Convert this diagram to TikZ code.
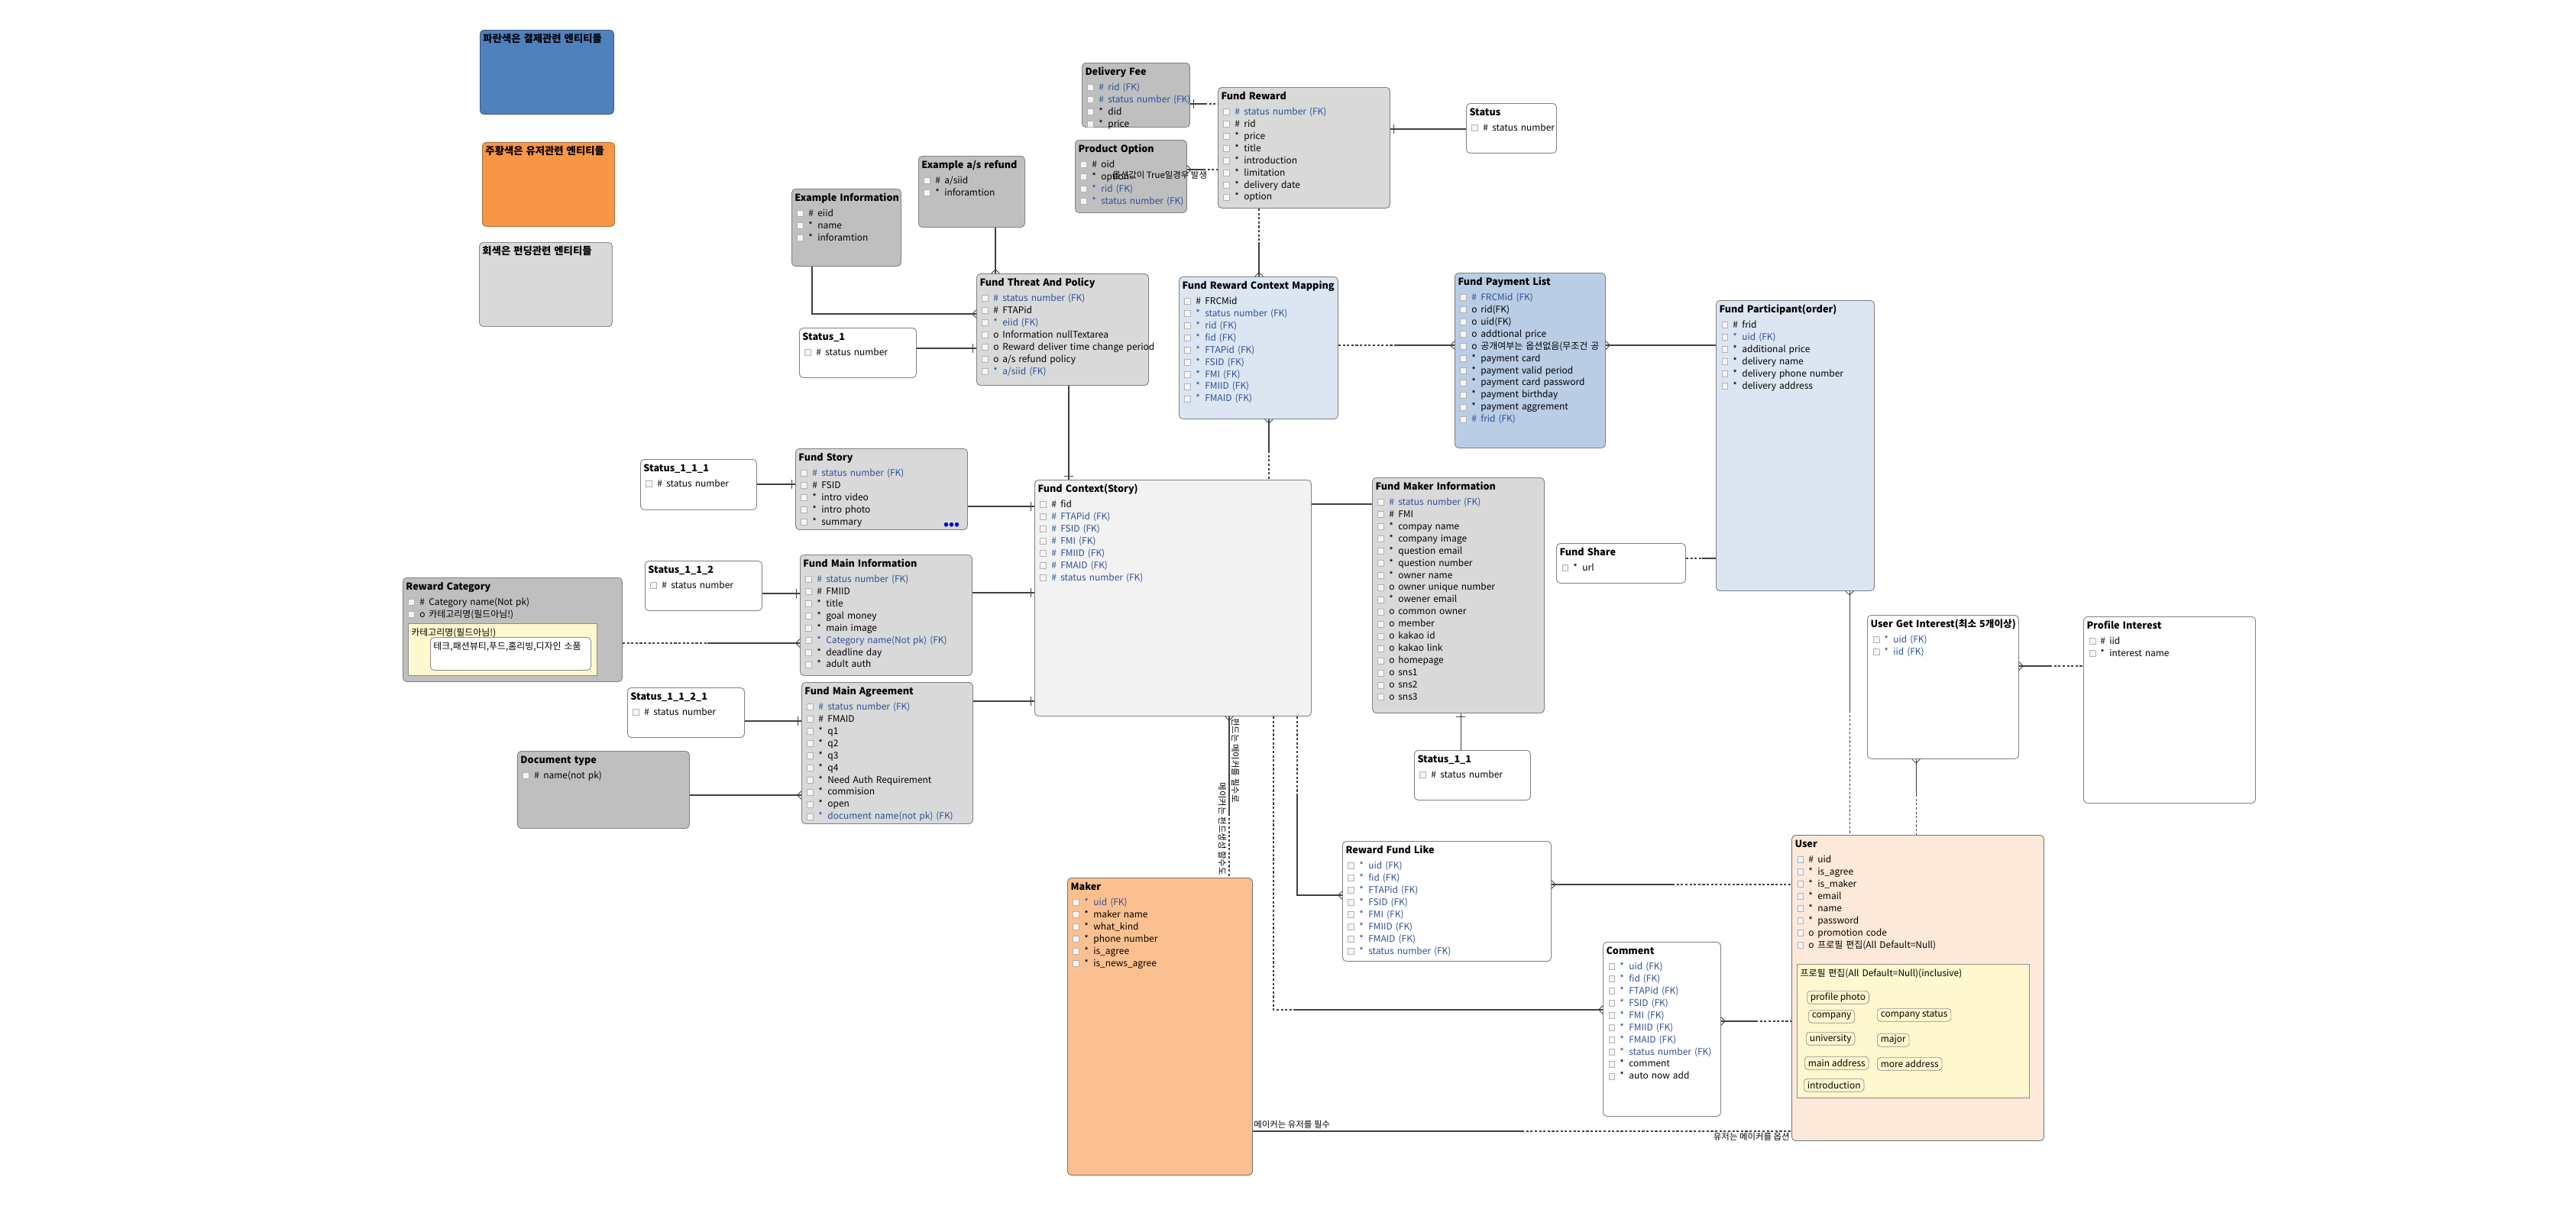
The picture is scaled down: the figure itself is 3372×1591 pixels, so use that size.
\documentclass[tikz,border=0pt]{standalone}
\usepackage{fontspec}
\setmainfont{Noto Sans CJK KR}
\usetikzlibrary{positioning, decorations.markings}

\definecolor{fkblue}{RGB}{45,80,150}
\definecolor{dgray}{RGB}{191,191,191}
\definecolor{lgray}{RGB}{217,217,217}
\definecolor{vlgray}{RGB}{242,242,242}
\definecolor{lblue}{RGB}{220,230,242}
\definecolor{mblue}{RGB}{185,205,229}
\definecolor{legblue}{RGB}{79,129,189}
\definecolor{legorange}{RGB}{247,150,70}
\definecolor{mkorange}{RGB}{250,192,144}
\definecolor{uspeach}{RGB}{253,233,217}
\definecolor{noteyel}{RGB}{255,247,206}

\newcommand{\rowfont}{\fontsize{6.8}{9.07}\selectfont}
\newcommand{\ttlfont}{\fontsize{7.2}{9.07}\selectfont\bfseries}
\newcommand{\legfont}{\fontsize{7.6}{9.07}\selectfont\bfseries}
\newcommand{\lblfont}{\fontsize{6.5}{8}\selectfont}
\newcommand{\ck}{\hspace*{1.7pt}{\setlength{\fboxsep}{0pt}\setlength{\fboxrule}{0.35pt}%
  \fcolorbox{black!30}{black!4}{\rule{0pt}{4.2pt}\rule{4.2pt}{0pt}}}\hspace{3.6pt}}
\newcommand{\et}[1]{\mbox{\ttlfont #1}\par\vspace{2pt}}
\newcommand{\rw}[2]{\mbox{\ck\makebox[6.8pt][l]{#1}#2}\par}
\newcommand{\rb}[2]{\mbox{\ck\textcolor{fkblue}{\makebox[6.8pt][l]{#1}#2}}\par}

\tikzset{
  ent/.style 2 args = {draw=black!50, rounded corners=2.8pt, anchor=north west,
    inner xsep=2.3pt, inner ysep=0pt, align=left, font=\rowfont, line width=0.5pt,
    /utils/exec={\pgfmathsetlengthmacro\entw{#1*0.2mm-4.6pt}%
      \pgfmathsetlengthmacro\entd{#2*0.2mm-9.4pt}},
    text width=\entw, text height=9.4pt, text depth=\entd},
  note/.style 2 args = {ent={#1}{#2}, sharp corners, fill=noteyel, draw=black!45},
  tag/.style = {draw=black!45, rounded corners=2.5pt, anchor=north west,
    inner xsep=2.5pt, inner ysep=1pt, minimum height=9.6pt, font=\rowfont},
  lbl/.style = {font=\lblfont, inner sep=0pt},
  ln/.style = {draw=black!75, line width=0.6pt},
  dsh/.style = {ln, dash pattern=on 1.8pt off 1.4pt},
  cf/.style = {postaction={decorate, decoration={markings,
    mark=at position 1 with {\draw[solid, line width=0.5pt] (-3pt,0pt) -- (0pt,3pt)
      (-3pt,0pt) -- (0pt,-3pt);}}}},
  cfs/.style = {postaction={decorate, decoration={markings,
    mark=at position 0 with {\draw[solid, line width=0.5pt] (3pt,0pt) -- (0pt,3pt)
      (3pt,0pt) -- (0pt,-3pt);}}}},
  br/.style = {postaction={decorate, decoration={markings,
    mark=at position -2.8pt with {\draw[solid, line width=0.5pt] (0pt,-3.2pt) -- (0pt,3.2pt);}}}},
  brs/.style = {postaction={decorate, decoration={markings,
    mark=at position 2.8pt with {\draw[solid, line width=0.5pt] (0pt,-3.2pt) -- (0pt,3.2pt);}}}}
}

\begin{document}
\begin{tikzpicture}[x=0.2mm, y=-0.2mm]
  \fill [white] (0,0) rectangle (3372,1591);
  \useasboundingbox (0,0) rectangle (3372,1591);

  % legend
  \node [ent={175}{110}, fill=legblue, draw=legblue!70!black] (lg-pay) at (628,39) {\mbox{\legfont 파란색은 결제관련 엔티티들}};
  \node [ent={173}{110}, fill=legorange, draw=legorange!70!black] (lg-usr) at (631,186) {\mbox{\legfont 주황색은 유저관련 엔티티들}};
  \node [ent={174}{110}, fill=lgray, draw=black!45] (lg-fnd) at (627,317) {\mbox{\legfont 회색은 펀딩관련 엔티티들}};

  % reward
  \node [ent={141}{84}, fill=dgray] (df) at (1416,82) {\et{Delivery Fee}
    \rb{\#}{rid (FK)}\rb{\#}{status number (FK)}\rw{*}{did}\rw{*}{price}};
  \node [ent={146}{95}, fill=dgray] (po) at (1407,183) {\et{Product Option}
    \rw{\#}{oid}\rw{*}{option}\rb{*}{rid (FK)}\rb{*}{status number (FK)}};
  \node [ent={225}{158}, fill=lgray] (fr) at (1594,114) {\et{Fund Reward}
    \rb{\#}{status number (FK)}\rw{\#}{rid}\rw{*}{price}\rw{*}{title}
    \rw{*}{introduction}\rw{*}{limitation}\rw{*}{delivery date}\rw{*}{option}};
  \node [ent={118}{65}, fill=white] (st) at (1919,135) {\et{Status}\rw{\#}{status number}};

  % threat and policy
  \node [ent={139}{93}, fill=dgray] (eas) at (1202,204) {\et{Example a/s refund}
    \rw{\#}{a/siid}\rw{*}{inforamtion}};
  \node [ent={143}{101}, fill=dgray] (ei) at (1036,247) {\et{Example Information}
    \rw{\#}{eiid}\rw{*}{name}\rw{*}{inforamtion}};
  \node [ent={225}{146}, fill=lgray] (ftp) at (1278,358) {\et{Fund Threat And Policy}
    \rb{\#}{status number (FK)}\rw{\#}{FTAPid}\rb{*}{eiid (FK)}
    \rw{o}{Information nullTextarea}\rw{o}{Reward deliver time change period}
    \rw{o}{a/s refund policy}\rb{*}{a/siid (FK)}};
  \node [ent={153}{65}, fill=white] (st1) at (1046,429) {\et{Status\_1}\rw{\#}{status number}};

  % payment
  \node [ent={208}{186}, fill=lblue] (frcm) at (1543,362) {\et{Fund Reward Context Mapping}
    \rw{\#}{FRCMid}\rb{*}{status number (FK)}\rb{*}{rid (FK)}\rb{*}{fid (FK)}
    \rb{*}{FTAPid (FK)}\rb{*}{FSID (FK)}\rb{*}{FMI (FK)}\rb{*}{FMIID (FK)}\rb{*}{FMAID (FK)}};
  \node [ent={197}{229}, fill=mblue] (fpl) at (1904,357) {\et{Fund Payment List}
    \rb{\#}{FRCMid (FK)}\rw{o}{rid(FK)}\rw{o}{uid(FK)}\rw{o}{addtional price}
    \rw{o}{공개여부는 옵션없음(무조건 공}\rw{*}{payment card}\rw{*}{payment valid period}
    \rw{*}{payment card password}\rw{*}{payment birthday}\rw{*}{payment aggrement}
    \rb{\#}{frid (FK)}};
  \node [ent={207}{380}, fill=lblue] (fpo) at (2246,393) {\et{Fund Participant(order)}
    \rw{\#}{frid}\rb{*}{uid (FK)}\rw{*}{additional price}\rw{*}{delivery name}
    \rw{*}{delivery phone number}\rw{*}{delivery address}};

  % fund context
  \node [ent={152}{66}, fill=white] (st111) at (838,601) {\et{Status\_1\_1\_1}\rw{\#}{status number}};
  \node [ent={225}{106}, fill=lgray] (fs) at (1041,587) {\et{Fund Story}
    \rb{\#}{status number (FK)}\rw{\#}{FSID}\rw{*}{intro video}\rw{*}{intro photo}\rw{*}{summary}};
  \node [text=blue!75!black, font=\fontsize{10}{10}\selectfont\bfseries, inner sep=0pt] (fs-dots) at (1246,688) {•••};
  \node [ent={362}{309}, fill=vlgray] (fc) at (1354,628) {\et{Fund Context(Story)}
    \rw{\#}{fid}\rb{\#}{FTAPid (FK)}\rb{\#}{FSID (FK)}\rb{\#}{FMI (FK)}
    \rb{\#}{FMIID (FK)}\rb{\#}{FMAID (FK)}\rb{\#}{status number (FK)}};
  \node [ent={153}{65}, fill=white] (st112) at (844,734) {\et{Status\_1\_1\_2}\rw{\#}{status number}};
  \node [ent={225}{158}, fill=lgray] (fmi) at (1047,726) {\et{Fund Main Information}
    \rb{\#}{status number (FK)}\rw{\#}{FMIID}\rw{*}{title}\rw{*}{goal money}
    \rw{*}{main image}\rb{*}{Category name(Not pk) (FK)}\rw{*}{deadline day}\rw{*}{adult auth}};
  \node [ent={287}{136}, fill=dgray] (rc) at (527,756) {\et{Reward Category}
    \rw{\#}{Category name(Not pk)}\rw{o}{카테고리명(필드아님!)}};
  \node [note={247}{68}] (rc-note) at (534,816) {카테고리명(필드아님!)};
  \node [ent={210}{43}, fill=white, draw=black!45] (rc-val) at (563,834) {테크,패션뷰티,푸드,홈리빙,디자인 소품};
  \node [ent={153}{65}, fill=white] (st1121) at (821,900) {\et{Status\_1\_1\_2\_1}\rw{\#}{status number}};
  \node [ent={224}{185}, fill=lgray] (fma) at (1049,893) {\et{Fund Main Agreement}
    \rb{\#}{status number (FK)}\rw{\#}{FMAID}\rw{*}{q1}\rw{*}{q2}\rw{*}{q3}\rw{*}{q4}
    \rw{*}{Need Auth Requirement}\rw{*}{commision}\rw{*}{open}\rb{*}{document name(not pk) (FK)}};
  \node [ent={225}{101}, fill=dgray] (dt) at (677,983) {\et{Document type}\rw{\#}{name(not pk)}};

  % maker information
  \node [ent={225}{308}, fill=lgray] (fmk) at (1796,625) {\et{Fund Maker Information}
    \rb{\#}{status number (FK)}\rw{\#}{FMI}\rw{*}{compay name}\rw{*}{company image}
    \rw{*}{question email}\rw{*}{question number}\rw{*}{owner name}\rw{o}{owner unique number}
    \rw{*}{owener email}\rw{o}{common owner}\rw{o}{member}\rw{o}{kakao id}\rw{o}{kakao link}
    \rw{o}{homepage}\rw{o}{sns1}\rw{o}{sns2}\rw{o}{sns3}};
  \node [ent={169}{52}, fill=white] (fsh) at (2037,711) {\et{Fund Share}\rw{*}{url}};
  \node [ent={152}{65}, fill=white] (st11) at (1851,982) {\et{Status\_1\_1}\rw{\#}{status number}};

  % user side
  \node [ent={198}{188}, fill=white] (ugi) at (2444,805) {\et{User Get Interest(최소 5개이상)}
    \rb{*}{uid (FK)}\rb{*}{iid (FK)}};
  \node [ent={225}{244}, fill=white] (pi) at (2727,807) {\et{Profile Interest}
    \rw{\#}{iid}\rw{*}{interest name}};
  \node [ent={242}{389}, fill=mkorange, draw=black!55] (mk) at (1397,1149) {\et{Maker}
    \rb{*}{uid (FK)}\rw{*}{maker name}\rw{*}{what\_kind}\rw{*}{phone number}
    \rw{*}{is\_agree}\rw{*}{is\_news\_agree}};
  \node [ent={273}{157}, fill=white] (rfl) at (1757,1101) {\et{Reward Fund Like}
    \rb{*}{uid (FK)}\rb{*}{fid (FK)}\rb{*}{FTAPid (FK)}\rb{*}{FSID (FK)}\rb{*}{FMI (FK)}
    \rb{*}{FMIID (FK)}\rb{*}{FMAID (FK)}\rb{*}{status number (FK)}};
  \node [ent={154}{228}, fill=white] (cm) at (2098,1233) {\et{Comment}
    \rb{*}{uid (FK)}\rb{*}{fid (FK)}\rb{*}{FTAPid (FK)}\rb{*}{FSID (FK)}\rb{*}{FMI (FK)}
    \rb{*}{FMIID (FK)}\rb{*}{FMAID (FK)}\rb{*}{status number (FK)}\rw{*}{comment}\rw{*}{auto now add}};
  \node [ent={330}{400}, fill=uspeach, draw=black!55] (us) at (2345,1093) {\et{User}
    \rw{\#}{uid}\rw{*}{is\_agree}\rw{*}{is\_maker}\rw{*}{email}\rw{*}{name}\rw{*}{password}
    \rw{o}{promotion code}\rw{o}{프로필 편집(All Default=Null)}};
  \node [note={304}{175}] (us-note) at (2352,1262) {프로필 편집(All Default=Null)(inclusive)};
  \foreach \t/\x/\y/\n in {profile photo/2365/1297/photo, company/2367/1322/comp,
      company status/2457/1320/cstat, university/2364/1351/univ, major/2457/1353/major,
      main address/2362/1383/maddr, more address/2457/1384/addr2, introduction/2361/1412/intro}
    \node [tag] (tg-\n) at (\x,\y) {\t};

  % break points
  \coordinate (k-dffr) at (1577,136);
  \coordinate (k-pofr) at (1575,222);
  \coordinate (k-frcm) at (1648,317);
  \coordinate (k-cmpl) at (1828,452);
  \coordinate (k-cmfc) at (1661,590);
  \coordinate (k-rcfmi) at (926,842);
  \coordinate (k-shpo) at (2228,731);
  \coordinate (k-pous) at (2421,930);
  \coordinate (k-ugus) at (2508,1040);
  \coordinate (k-ugpi) at (2683,872);
  \coordinate (k-fcmk) at (1609,1065);
  \coordinate (k-fccm) at (1693,1322);
  \coordinate (k-fcrf) at (1698,1040);
  \coordinate (k-rfus) at (2189,1158);
  \coordinate (k-cmus) at (2298,1337);
  \coordinate (k-mkus) at (1992,1481);

  % connectors
  \draw [ln, brs] (df.east |- 0,136) -- (k-dffr);
  \draw [dsh] (k-dffr) -- (fr.west |- 0,136);
  \draw [ln, cfs] (po.east |- 0,222) -- (k-pofr);
  \draw [dsh] (k-pofr) -- (fr.west |- 0,222);
  \draw [ln, brs] (fr.east |- 0,169) -- (st.west |- 0,169);
  \draw [dsh] (fr.south -| 1648,0) -- (k-frcm);
  \draw [ln, cf] (k-frcm) -- (frcm.north -| 1648,0);
  \draw [ln, cf] (eas.south -| 1303,0) -- (ftp.north -| 1303,0);
  \draw [ln, cf] (ei.south -| 1063,0) |- (ftp.west |- 0,411);
  \draw [ln, br] (st1.east |- 0,456) -- (ftp.west |- 0,456);
  \draw [ln, br] (ftp.south -| 1399,0) -- (fc.north -| 1399,0);
  \draw [dsh] (frcm.east |- 0,452) -- (k-cmpl);
  \draw [ln, cf] (k-cmpl) -- (fpl.west |- 0,452);
  \draw [ln, cfs] (fpl.east |- 0,452) -- (fpo.west |- 0,452);
  \draw [ln, cfs] (frcm.south -| 1661,0) -- (k-cmfc);
  \draw [dsh] (k-cmfc) -- (fc.north -| 1661,0);
  \draw [ln, br] (st111.east |- 0,634) -- (fs.west |- 0,634);
  \draw [ln, br] (fs.east |- 0,663) -- (fc.west |- 0,663);
  \draw [ln, br] (st112.east |- 0,777) -- (fmi.west |- 0,777);
  \draw [ln, br] (fmi.east |- 0,776) -- (fc.west |- 0,776);
  \draw [dsh] (rc.east |- 0,842) -- (k-rcfmi);
  \draw [ln, cf] (k-rcfmi) -- (fmi.west |- 0,842);
  \draw [ln, br] (st1121.east |- 0,944) -- (fma.west |- 0,944);
  \draw [ln, cf] (dt.east |- 0,1041) -- (fma.west |- 0,1041);
  \draw [ln, br] (fma.east |- 0,918) -- (fc.west |- 0,918);
  \draw [ln] (fc.east |- 0,660) -- (fmk.west |- 0,660);
  \draw [ln, brs] (fmk.south -| 1912,0) -- (st11.north -| 1912,0);
  \draw [dsh] (fsh.east |- 0,731) -- (k-shpo);
  \draw [ln] (k-shpo) -- (fpo.west |- 0,731);
  \draw [ln, cfs] (fpo.south -| 2421,0) -- (k-pous);
  \draw [dsh] (k-pous) -- (us.north -| 2421,0);
  \draw [ln, cfs] (ugi.south -| 2508,0) -- (k-ugus);
  \draw [dsh] (k-ugus) -- (us.north -| 2508,0);
  \draw [ln, cfs] (ugi.east |- 0,872) -- (k-ugpi);
  \draw [dsh] (k-ugpi) -- (pi.west |- 0,872);
  \draw [ln, cfs] (fc.south -| 1609,0) -- (k-fcmk);
  \draw [dsh] (k-fcmk) -- (mk.north -| 1609,0);
  \draw [dsh] (fc.south -| 1667,0) |- (k-fccm);
  \draw [ln, cf] (k-fccm) -- (cm.west |- 0,1322);
  \draw [dsh] (fc.south -| 1698,0) -- (k-fcrf);
  \draw [ln, cf] (k-fcrf) |- (rfl.west |- 0,1172);
  \draw [ln, cfs] (rfl.east |- 0,1158) -- (k-rfus);
  \draw [dsh] (k-rfus) -- (us.west |- 0,1158);
  \draw [ln, cfs] (cm.east |- 0,1337) -- (k-cmus);
  \draw [dsh] (k-cmus) -- (us.west |- 0,1337);
  \draw [ln] (mk.east |- 0,1481) -- (k-mkus);
  \draw [dsh] (k-mkus) -- (us.west |- 0,1481);

  % labels
  \node [lbl, anchor=west] (lb-opt) at (1456,229) {옵션값이 True일경우 발생};
  \node [lbl, rotate=-90, anchor=west] (lb-fd) at (1617,940) {펀드는 메이커를 필수로};
  \node [lbl, rotate=-90, anchor=east] (lb-mf) at (1600,1146) {메이커는 펀드생성 할수도};
  \node [lbl, anchor=south west] (lb-mu) at (1641,1478) {메이커는 유저를 필수};
  \node [lbl, anchor=north east] (lb-um) at (2343,1483) {유저는 메이커를 옵션};
\end{tikzpicture}
\end{document}
